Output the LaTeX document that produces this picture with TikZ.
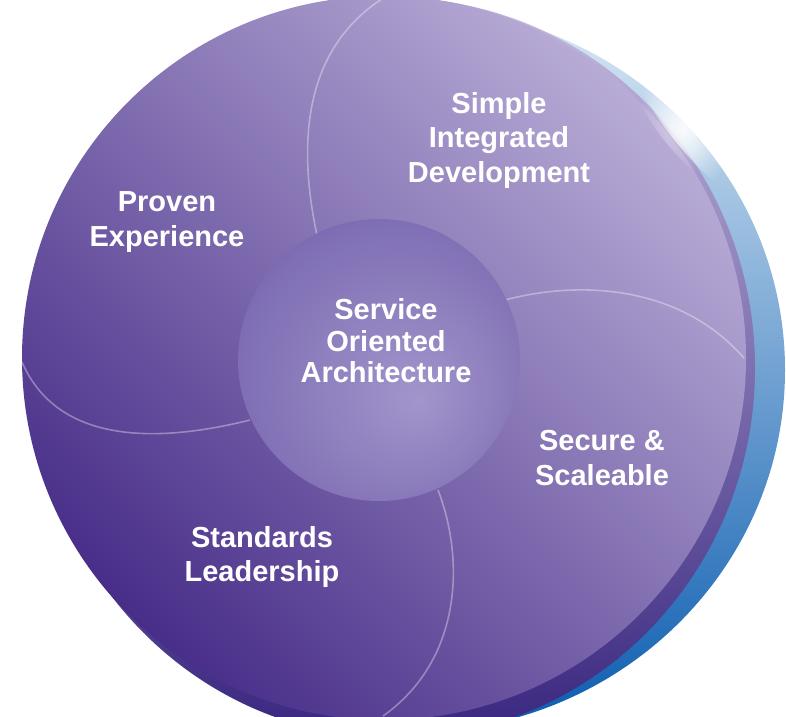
\documentclass[tikz,border=0pt]{standalone}
\usepackage{fontspec}
\setmainfont{Liberation Sans}
\usepackage{tikz}
\usetikzlibrary{fadings}
\usepackage{xcolor}

\definecolor{rimtop}{HTML}{D9E8F4}
\definecolor{rimmid}{HTML}{5A9ED6}
\definecolor{rimbot}{HTML}{0B5CB0}
\definecolor{ringtop}{HTML}{C4BADF}
\definecolor{ringmid}{HTML}{6A59A8}
\definecolor{ringbot}{HTML}{39267F}
\definecolor{facelight}{HTML}{B8ACD6}
\definecolor{facemid}{HTML}{7C6AB1}
\definecolor{facedark}{HTML}{482E89}
\definecolor{sphlight}{HTML}{A295CB}
\definecolor{sphmid}{HTML}{7F6EB4}
\definecolor{sphdark}{HTML}{523E95}

\pgfdeclareradialshading{soasphere}{\pgfpoint{7bp}{-7bp}}{color(0bp)=(sphlight); color(28bp)=(sphmid); color(50bp)=(sphdark)}
\tikzfading[name=glowfade, inner color=transparent!0, outer color=transparent!100]

\tikzset{
  seam/.style={draw=white, opacity=.35, line width=1.6pt},
  petal text/.style={text=white, align=center, inner sep=0pt,
    font=\fontsize{29}{34.5}\selectfont\bfseries},
  core text/.style={petal text, font=\fontsize{29}{31.5}\selectfont\bfseries}
}

\begin{document}
\begin{tikzpicture}[x=1pt,y=-1pt]
\useasboundingbox (0,0) rectangle (786,716);
\clip (0,0) rectangle (786,716);
% blue rim, ring, face
\shade[top color=rimtop, middle color=rimmid, bottom color=rimbot] (412,370) ellipse (373pt and 362pt);
\shade[top color=ringtop, middle color=ringmid, bottom color=ringbot] (395,368) ellipse (360pt and 370pt);
\fill[white, path fading=glowfade, opacity=.9, rotate around={38:(684,128)}] (684,128) ellipse (15pt and 75pt);
\shade[top color=facelight, middle color=facemid, bottom color=facedark, shading angle=-45] (384,358) circle (362pt);
\fill[white, path fading=glowfade, opacity=.35, rotate around={38:(674,130)}] (674,130) ellipse (14pt and 60pt);
% seams
\coordinate (topin) at (318,240);   \coordinate (topout) at (385,-3);
\coordinate (rightin) at (505,300); \coordinate (rightout) at (744,358);
\coordinate (botin) at (438,490);   \coordinate (botout) at (383,716);
\coordinate (leftin) at (250,420);  \coordinate (leftout) at (22,362);
\draw[seam] (topin) .. controls (298,150) and (300,50) .. (topout);
\draw[seam] (rightin) .. controls (580,280) and (680,285) .. (rightout);
\draw[seam] (botin) .. controls (465,560) and (462,660) .. (botout);
\draw[seam] (leftin) .. controls (170,440) and (60,450) .. (leftout);
% centre sphere
\node[circle, shading=soasphere, minimum size=282pt, inner sep=0pt] (core) at (379,360) {};
\node[core text] (soa) at (386,341) {Service\\Oriented\\Architecture};
\node[petal text] (simple) at (499,140) {Simple\\Integrated\\Development};
\node[petal text] (proven) at (167,222) {Proven\\Experience};
\node[petal text] (secure) at (602,458) {Secure \&\\Scaleable};
\node[petal text] (standards) at (262,557) {Standards\\Leadership};
\end{tikzpicture}
\end{document}
